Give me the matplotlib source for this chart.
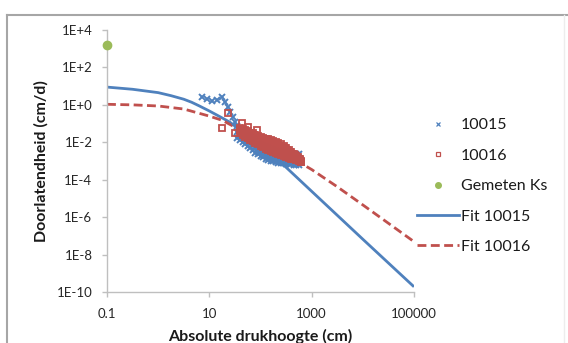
import matplotlib
matplotlib.use("Agg")
import matplotlib.pyplot as plt
from matplotlib.lines import Line2D

plt.rcParams['font.family'] = ['Lato', 'DejaVu Sans']

BLUE = '#4F81BD'
RED = '#C0504D'
GREEN = '#9BBB59'
AXIS_GRAY = '#BFBFBF'

# --- measurements, sample 10015 (pressure head h [cm], conductivity K [cm/d]) ---
h_10015_sparse = [7.1, 8.9, 11.2, 14, 17.5, 20, 23, 25, 28.8, 31.5]
k_10015_sparse = [2.6, 2.0, 1.6, 1.8, 2.6, 1.4, 0.76, 0.41, 0.22, 0.12]

h_10015 = [35.5, 40, 45, 50, 56, 63, 71, 79, 89, 100, 112, 126, 141, 158, 178,
           200, 224, 251, 282, 316, 355, 398, 447, 501, 562]
k_10015_low = [0.0174, 0.0138, 0.0107, 0.0083, 0.0063, 0.0049, 0.0037, 0.0028,
               0.00224, 0.00186, 0.00158, 0.00135, 0.00117, 0.00105, 0.00095,
               0.00087, 0.00083, 0.00079, 0.00076, 0.00072, 0.00069, 0.00066,
               0.00063, 0.0006, 0.00058]
k_10015_mid = [0.035, 0.0275, 0.0214, 0.0166, 0.0126, 0.0098, 0.0074, 0.0056,
               0.0045, 0.0037, 0.0032, 0.0027, 0.0023, 0.0021, 0.0019, 0.0017,
               0.0017, 0.0016, 0.0015, 0.0014, 0.0014, 0.0013, 0.0013, 0.0012,
               0.0012]
k_10015_high = [0.07, 0.055, 0.043, 0.033, 0.025, 0.0196, 0.0148, 0.0112, 0.009,
                0.0074, 0.0063, 0.0054, 0.0047, 0.0042, 0.0038, 0.0035, 0.0033,
                0.0032, 0.003, 0.0029, 0.0028, 0.0026, 0.0025, 0.0024, 0.0023]

h_10015_b = [38, 42, 47, 53, 60, 67, 75, 84, 94, 106, 119, 133, 150, 168, 188,
             211, 237, 266, 299, 335, 376, 422, 473, 531]
k_10015_b_upper = [0.0495, 0.039, 0.030, 0.0235, 0.0178, 0.0139, 0.0105, 0.0079,
                   0.0064, 0.0052, 0.0045, 0.0038, 0.0033, 0.003, 0.0027, 0.0024,
                   0.0024, 0.0023, 0.0021, 0.002, 0.002, 0.0018, 0.0018, 0.0017]
k_10015_b_lower = [0.0246, 0.0195, 0.0151, 0.0117, 0.0089, 0.0069, 0.0052, 0.004,
                   0.0032, 0.0026, 0.0022, 0.0019, 0.00165, 0.00148, 0.00134,
                   0.00123, 0.00117, 0.00112, 0.00107, 0.00102, 0.00098, 0.00093,
                   0.00089, 0.00085]

# --- measurements, sample 10016 ---
h_10016_sparse = [23, 17.5, 31.5, 43, 56, 85]
k_10016_sparse = [0.36, 0.057, 0.031, 0.107, 0.066, 0.046]

h_10016 = [40, 45, 50, 56, 63, 71, 79, 89, 100, 112, 126, 141, 158, 178, 200,
           224, 251, 282, 316, 355, 398, 447, 501, 562, 631]
k_10016_high = [0.056, 0.049, 0.044, 0.038, 0.033, 0.0295, 0.0257, 0.0224, 0.020,
                0.0174, 0.0155, 0.0141, 0.0126, 0.0112, 0.010, 0.0089, 0.0079,
                0.0065, 0.005, 0.0039, 0.003, 0.0023, 0.0018, 0.00135, 0.001]
k_10016_mid = [0.043, 0.034, 0.0295, 0.025, 0.0214, 0.0184, 0.0157, 0.0133,
               0.0115, 0.0098, 0.0084, 0.0074, 0.0065, 0.0058, 0.0051, 0.0046,
               0.004, 0.0034, 0.0028, 0.0024, 0.002, 0.0017, 0.00146, 0.0012,
               0.00094]
k_10016_low = [0.033, 0.024, 0.020, 0.0166, 0.0138, 0.0115, 0.0095, 0.0079,
               0.0066, 0.0055, 0.0046, 0.0039, 0.0034, 0.003, 0.0026, 0.0023,
               0.002, 0.0018, 0.00158, 0.00145, 0.00135, 0.00126, 0.00117,
               0.00105, 0.00089]

h_10016_b = [42, 47, 53, 60, 67, 75, 84, 94, 106, 119, 133, 150, 168, 188, 211,
             237, 266, 299, 335, 376, 422, 473, 531, 596]
k_10016_b_upper = [0.049, 0.0408, 0.036, 0.0308, 0.0266, 0.0233, 0.0201, 0.0173,
                   0.0152, 0.0131, 0.0114, 0.0102, 0.009, 0.0081, 0.0071, 0.0064,
                   0.0056, 0.0047, 0.0037, 0.0031, 0.00245, 0.002, 0.0016,
                   0.00127]
k_10016_b_lower = [0.0377, 0.0286, 0.0243, 0.0204, 0.0172, 0.0145, 0.0122,
                   0.0103, 0.0087, 0.0073, 0.0062, 0.0054, 0.0047, 0.0042,
                   0.0036, 0.0033, 0.0028, 0.0025, 0.0021, 0.0019, 0.00164,
                   0.00146, 0.0013, 0.00112]

# --- measured saturated conductivity ---
h_ks = [0.1]
k_ks = [1600]

# --- fitted conductivity curves ---
h_fit_10015 = [0.1, 0.316, 1, 1.78, 3.16, 4.5, 6.3, 10, 15.8, 25, 50, 100, 316,
               1000, 10000, 100000]
k_fit_10015 = [8.9, 6.8, 4.5, 3.1, 2.0, 1.38, 0.89, 0.47, 0.24, 0.12, 0.028,
               0.0063, 4.6e-4, 2.4e-5, 6.6e-8, 1.9e-10]

h_fit_10016 = [0.1, 0.316, 1, 3.16, 10, 17.8, 31.6, 100, 316, 1000, 3162, 10000,
               31623, 100000]
k_fit_10016 = [1.07, 1.0, 0.87, 0.60, 0.25, 0.15, 0.065, 0.012, 0.0022, 3.5e-4,
               4.2e-5, 4.5e-6, 4.7e-7, 4.9e-8]

x_ticks = [0.1, 10, 1000, 100000]
x_tick_labels = ['0.1', '10', '1000', '100000']
y_ticks = [1e4, 1e2, 1e0, 1e-2, 1e-4, 1e-6, 1e-8, 1e-10]
y_tick_labels = ['1E+4', '1E+2', '1E+0', '1E-2', '1E-4', '1E-6', '1E-8', '1E-10']

W, H = 568, 343
fig = plt.figure(figsize=(W / 100, H / 100), dpi=100)
fig.patch.set_facecolor('white')

# chart frame
frame_col = '#A6A6A6'
fig.add_artist(Line2D([7 / W, 7 / W], [0, 1 - 15 / H], color=frame_col, lw=1.5,
                      transform=fig.transFigure))
fig.add_artist(Line2D([7 / W, 1], [1 - 15 / H, 1 - 15 / H], color=frame_col,
                      lw=1.5, transform=fig.transFigure))
fig.add_artist(Line2D([564 / W, 564 / W], [0, 1 - 15 / H], color='#EDEDED',
                      lw=1.0, transform=fig.transFigure))

ax = fig.add_axes([107 / W, 1 - 292 / H, (414 - 107) / W, (292 - 30) / H])
ax.set_xscale('log')
ax.set_yscale('log')
ax.set_xlim(0.1, 1e5)
ax.set_ylim(1e-10, 1e4)

# fitted curves
ax.plot(h_fit_10015, k_fit_10015, color=BLUE, lw=2.0, zorder=2,
        solid_capstyle='butt')
ax.plot(h_fit_10016, k_fit_10016, color=RED, lw=2.0, zorder=2,
        dashes=(3.2, 1.6))

# measured points
mk_x = dict(marker='x', ms=5, mew=1.4, color=BLUE, ls='none', zorder=3)
ax.plot(h_10015_sparse, k_10015_sparse, **mk_x)
for k_row in (k_10015_low, k_10015_mid, k_10015_high):
    ax.plot(h_10015, k_row, **mk_x)
for k_row in (k_10015_b_lower, k_10015_b_upper):
    ax.plot(h_10015_b, k_row, **mk_x)

mk_s = dict(marker='s', ms=5, mew=1.3, mfc='none', mec=RED, ls='none',
            zorder=4)
ax.plot(h_10016_sparse, k_10016_sparse, **mk_s)
for k_row in (k_10016_low, k_10016_mid, k_10016_high):
    ax.plot(h_10016, k_row, **mk_s)
for k_row in (k_10016_b_lower, k_10016_b_upper):
    ax.plot(h_10016_b, k_row, **mk_s)

ax.plot(h_ks, k_ks, marker='o', ms=6, color=GREEN, ls='none', zorder=5,
        clip_on=False)

# axes styling
for side in ('top', 'right'):
    ax.spines[side].set_visible(False)
for side in ('left', 'bottom'):
    ax.spines[side].set_color(AXIS_GRAY)
    ax.spines[side].set_linewidth(1.0)
ax.set_xticks(x_ticks)
ax.set_xticklabels(x_tick_labels)
ax.set_yticks(y_ticks)
ax.set_yticklabels(y_tick_labels)
ax.minorticks_off()
ax.tick_params(axis='both', which='major', length=3.5, width=1.0,
               color=AXIS_GRAY, labelsize=9.5, labelcolor='#262626')
ax.tick_params(axis='y', pad=7)
ax.tick_params(axis='x', pad=8)

fig.text(41 / W, 1 - 161 / H, 'Doorlatendheid (cm/d)', rotation=90,
         ha='center', va='center', fontsize=11.5, fontweight='bold',
         color='#1a1a1a')
fig.text(260 / W, 1 - 336 / H, 'Absolute drukhoogte (cm)', ha='center',
         va='center', fontsize=11.5, fontweight='bold', color='#1a1a1a')

# legend
handles = [
    Line2D([], [], marker='x', ms=3.5, mew=0.9, color=BLUE, ls='none'),
    Line2D([], [], marker='s', ms=3.5, mew=0.9, mfc='none', mec=RED, ls='none'),
    Line2D([], [], marker='o', ms=4, color=GREEN, ls='none'),
    Line2D([], [], color=BLUE, lw=2.0),
    Line2D([], [], color=RED, lw=2.0, dashes=(3.2, 1.6)),
]
labels = ['10015', '10016', 'Gemeten Ks', 'Fit 10015', 'Fit 10016']
leg = fig.legend(handles, labels, loc='center left',
                 bbox_to_anchor=(417 / W, 1 - 186 / H), frameon=False,
                 fontsize=11.5, handlelength=2.6, handletextpad=0.15,
                 labelspacing=1.02, borderpad=0, borderaxespad=0)
for t in leg.get_texts():
    t.set_color('#1a1a1a')

fig.savefig('out.png', dpi=100, facecolor='white')
